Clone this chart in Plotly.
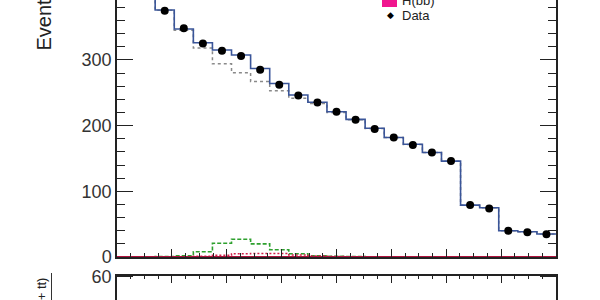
import numpy as np
import plotly.graph_objects as go

# ---- data (23 bins) ----
n_bins = 23
bin_edges = np.arange(n_bins + 1, dtype=float)

data_vals = [440, 405, 375, 348, 325, 314, 306, 285, 262, 246, 235, 221, 209,
             195, 182, 170.5, 159, 146, 79, 74, 40, 37.5, 34.5]
total_mc = [442, 407, 376, 347, 326, 315, 307.5, 287, 264, 246.5, 235.5, 221,
            209.5, 196, 182, 171.5, 159, 146, 79, 75, 40, 38.5, 35]
green_comp = [0, 0, 0.5, 2, 8, 21, 27, 20, 11, 5, 2, 1, 0.5, 0.3, 0.2, 0.2,
              0.1, 0.1, 0.1, 0.1, 0.1, 0.1, 0.1]
red_comp = [0, 0, 0.2, 0.5, 1, 2.5, 5, 5.5, 5.5, 3, 1.5, 0.8, 0.4, 0.3, 0.2,
            0.2, 0.1, 0.1, 0.1, 0.1, 0.1, 0.1, 0.1]
hbb_comp = [0.3] * n_bins
bkg_only = [t - g for t, g in zip(total_mc, green_comp)]

legend_labels = ["H(bb)", "Data"]
y_title = "Events / bin"
ratio_title = "Data / (Z + tt)"

W, H = 600, 300
L, R = 117, 44
main_bottom_px = 257
ratio_top_px = 275.5


def step(vals):
    return list(bin_edges), list(vals) + [vals[-1]]


fig = go.Figure()

tc = "#222222"

# background only (dashed grey)
x, y = step(bkg_only)
fig.add_trace(go.Scatter(x=x, y=y, mode="lines", line_shape="hv",
                         line=dict(color="#8a8a8a", width=1.5, dash="3px,3px"),
                         showlegend=False, xaxis="x", yaxis="y"))
# total (solid blue)
x, y = step(total_mc)
fig.add_trace(go.Scatter(x=x, y=y, mode="lines", line_shape="hv",
                         line=dict(color="#3a5599", width=1.6),
                         showlegend=False, xaxis="x", yaxis="y"))
# green dashed component
x, y = step(green_comp)
fig.add_trace(go.Scatter(x=x, y=y, mode="lines", line_shape="hv",
                         line=dict(color="#2ea02e", width=1.6, dash="4px,2px"),
                         showlegend=False, xaxis="x", yaxis="y"))
# red dotted component
x, y = step(red_comp)
fig.add_trace(go.Scatter(x=x, y=y, mode="lines", line_shape="hv",
                         line=dict(color="#d0204a", width=1.5, dash="2px,2px"),
                         showlegend=False, xaxis="x", yaxis="y"))
# H(bb) tiny solid
x, y = step(hbb_comp)
fig.add_trace(go.Scatter(x=x, y=y, mode="lines", line_shape="hv",
                         line=dict(color="#b0103c", width=1.5),
                         showlegend=False, xaxis="x", yaxis="y"))
# data points
centers = [e + 0.5 for e in bin_edges[:-1]]
fig.add_trace(go.Scatter(x=centers, y=data_vals, mode="markers",
                         marker=dict(color="black", size=8),
                         showlegend=False, xaxis="x", yaxis="y"))
# ratio panel (content lies below the visible region)
fig.add_trace(go.Scatter(x=[], y=[], mode="markers", showlegend=False,
                         xaxis="x2", yaxis="y2"))

main_dom = [(H - main_bottom_px) / H, 1.0]
ratio_dom = [0.0, (H - ratio_top_px) / H]

major_x = n_bins / 8.0

fig.update_layout(
    width=W, height=H,
    margin=dict(l=L, r=R, t=0, b=0, autoexpand=False),
    paper_bgcolor="white", plot_bgcolor="white",
    font=dict(family="Liberation Sans, Arial, sans-serif", color=tc),
    xaxis=dict(domain=[0, 1], range=[0, n_bins], anchor="y", automargin=False,
               showline=True, linecolor=tc, linewidth=1.5, mirror=False,
               ticks="inside", ticklen=8, tickcolor=tc, tickwidth=1,
               tick0=0, dtick=major_x, showticklabels=False,
               minor=dict(ticks="inside", ticklen=4, dtick=major_x / 4,
                          tickcolor=tc, tickwidth=1),
               showgrid=False, zeroline=False),
    yaxis=dict(domain=main_dom, range=[0, main_bottom_px / 0.657], anchor="x",
               automargin=False,
               showline=True, linecolor=tc, linewidth=1.5, mirror="allticks",
               ticks="inside", ticklen=16, tickcolor=tc, tickwidth=1.2,
               tick0=0, dtick=100,
               minor=dict(ticks="inside", ticklen=8, dtick=20,
                          tickcolor=tc, tickwidth=1),
               tickfont=dict(size=18, color="#333333"),
               showgrid=False, zeroline=False),
    xaxis2=dict(domain=[0, 1], range=[0, n_bins], anchor="y2", side="top",
                automargin=False,
                showline=True, linecolor=tc, linewidth=1.5, mirror=False,
                ticks="inside", ticklen=8, tickcolor=tc, tickwidth=1,
                tick0=0, dtick=major_x, showticklabels=False,
                minor=dict(ticks="inside", ticklen=4, dtick=major_x / 4,
                           tickcolor=tc, tickwidth=1),
                showgrid=False, zeroline=False),
    yaxis2=dict(domain=ratio_dom, range=[41, 61.05], anchor="x2",
                automargin=False,
                showline=True, linecolor=tc, linewidth=1.5, mirror="allticks",
                ticks="inside", ticklen=16, tickcolor=tc, tickwidth=1.2,
                tick0=0, dtick=20,
                tickfont=dict(size=18, color="#333333"),
                showgrid=False, zeroline=False),
)

pw = W - L - R


def px_x(p):
    return (p - L) / pw


# partially cropped "400" tick label at top
fig.add_annotation(x=0, xref="paper", xanchor="right", xshift=-3,
                   y=400, yref="y", yanchor="middle",
                   text="400", showarrow=False,
                   font=dict(size=18, color="#333333"))

# y axis title (rotated), bottom at y=52px
fig.add_annotation(x=px_x(44), xref="paper", xanchor="center",
                   y=(H - 53) / H, yref="paper", yanchor="bottom",
                   text=y_title, textangle=-90, showarrow=False,
                   font=dict(size=20, color="#222222"))

# ratio title (rotated), end at y=277px
fig.add_annotation(x=px_x(41), xref="paper", xanchor="center",
                   y=(H - 276) / H, yref="paper", yanchor="top",
                   text=ratio_title, textangle=-90, showarrow=False,
                   font=dict(size=13, color="#222222"))
fig.add_shape(type="line", xref="paper", yref="paper",
              x0=px_x(51.5), x1=px_x(51.5),
              y0=(H - 273) / H, y1=0, line=dict(color="#333333", width=1))

# legend (partially cropped)
fig.add_shape(type="rect", xref="paper", yref="paper",
              x0=px_x(382), x1=px_x(397), y0=(H - 7) / H, y1=(H + 8) / H,
              fillcolor="#f0168f", line=dict(width=0))
fig.add_annotation(x=px_x(400), xref="paper", xanchor="left",
                   y=(H - 0) / H, yref="paper", yanchor="middle",
                   text=legend_labels[0], showarrow=False,
                   font=dict(size=13, color="#222222"))
fig.add_annotation(x=px_x(390), xref="paper", xanchor="center",
                   y=(H - 15) / H, yref="paper", yanchor="middle",
                   text="\u25C6", showarrow=False,
                   font=dict(size=9, color="black"))
fig.add_annotation(x=px_x(400), xref="paper", xanchor="left",
                   y=(H - 15) / H, yref="paper", yanchor="middle",
                   text=legend_labels[1], showarrow=False,
                   font=dict(size=13, color="#222222"))

fig.write_html("out.html")
